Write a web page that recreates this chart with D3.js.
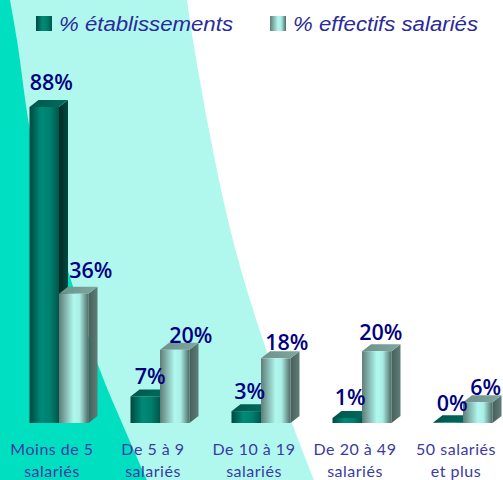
<!DOCTYPE html>
<html>
<head>
<meta charset="utf-8">
<script src="https://cdn.jsdelivr.net/npm/d3@7"></script>
<style>
  html, body { margin: 0; padding: 0; background: #fff; overflow: hidden; }
  svg { display: block; }
</style>
</head>
<body>
<script>
// data
var categories = ["Moins de 5|salariés", "De 5 à 9|salariés", "De 10 à 19|salariés", "De 20 à 49|salariés", "50 salariés|et plus"];
var seriesNames = ["% établissements", "% effectifs salariés"];
var etablissements = [88, 7.4, 3.3, 1.4, 0.2];
var effectifs = [36, 20.4, 18, 20, 5.8];

// svg container
var svgWidth = 503;
var svgHeight = 480;
var baseline = 423;
var depthX = 9;
var depthY = 7;

var svg = d3.select("body").append("svg")
    .attr("width", svgWidth)
    .attr("height", svgHeight);

// gradients for the bar faces
var defs = svg.append("defs");
function gradient(id, stops) {
  var g = defs.append("linearGradient").attr("id", id);
  stops.forEach(s => g.append("stop").attr("offset", s[0]).attr("stop-color", s[1]));
}
gradient("darkFront", [[0, "#00483f"], [0.4, "#008a78"], [0.7, "#007f6e"], [1, "#00564b"]]);
gradient("lightFront", [[0, "#5f7d78"], [0.5, "#b0f8ee"], [0.7, "#a8eee4"], [1, "#4f6a65"]]);
gradient("darkSide", [[0, "#002a25"], [1, "#004a40"]]);
gradient("lightSide", [[0, "#47605b"], [1, "#5f7d78"]]);
gradient("darkTop", [[0, "#00564b"], [1, "#006d5f"]]);
gradient("lightTop", [[0, "#6f918c"], [1, "#7fa6a0"]]);

// background swooshes
var curve = d3.line().curve(d3.curveCatmullRom);
var lightEdge = [[187, 0], [193, 40], [209, 130], [228, 220], [250, 300], [292, 423], [314, 480]];
var darkEdge = [[10, 0], [17, 40], [30, 130], [48, 210], [70, 277], [98, 365], [125, 430], [147, 480]];

svg.append("path")
    .attr("d", curve(lightEdge) + "L0,480L0,0Z")
    .attr("fill", "#b0f8ee");
svg.append("path")
    .attr("d", curve(darkEdge) + "L0,480L0,0Z")
    .attr("fill", "#00e0c0");

// scales
var xScale = d3.scaleBand()
    .domain(categories)
    .range([8.5, 513.5]);
var xSeries = d3.scaleBand()
    .domain(seriesNames)
    .range([21, 80]);
var yScale = d3.scaleLinear()
    .domain([0, 88])
    .range([baseline, 107]);

var rows = [];
categories.forEach((c, i) => {
  rows.push({cat: c, value: etablissements[i], s: seriesNames[0], kind: "dark", nudgeX: [7, 5, 3.5, 3, 4][i], nudgeY: [17, 12, 12, 13, 11][i]});
});
categories.forEach((c, i) => {
  rows.push({cat: c, value: effectifs[i], s: seriesNames[1], kind: "light", nudgeX: [17, 16, 11, 4, 8][i], nudgeY: [16, 7, 8, 11, 7][i]});
});

var bars = svg.selectAll("g.bar")
    .data(rows)
    .enter()
    .append("g")
    .attr("class", "bar");

// side face
bars.append("path")
    .attr("fill", d => `url(#${d.kind}Side)`)
    .attr("d", d => {
      var x = xScale(d.cat) + xSeries(d.s) + xSeries.bandwidth();
      var y = yScale(d.value);
      return `M${x},${baseline}L${x},${y}L${x + depthX},${y - depthY}L${x + depthX},${baseline - depthY}Z`;
    });
// top face
bars.append("path")
    .attr("fill", d => `url(#${d.kind}Top)`)
    .attr("d", d => {
      var x = xScale(d.cat) + xSeries(d.s);
      var w = xSeries.bandwidth();
      var y = yScale(d.value);
      return `M${x},${y}L${x + depthX},${y - depthY}L${x + w + depthX},${y - depthY}L${x + w},${y}Z`;
    });
// front face
bars.append("rect")
    .attr("x", d => xScale(d.cat) + xSeries(d.s))
    .attr("y", d => yScale(d.value))
    .attr("width", xSeries.bandwidth())
    .attr("height", d => baseline - yScale(d.value))
    .attr("fill", d => `url(#${d.kind}Front)`);

// value labels
svg.selectAll("text.value")
    .data(rows)
    .enter()
    .append("text")
    .attr("class", "value")
    .attr("x", d => xScale(d.cat) + xSeries(d.s) + xSeries.bandwidth() / 2 + d.nudgeX)
    .attr("y", d => yScale(d.value) - d.nudgeY)
    .attr("text-anchor", "middle")
    .attr("font-family", "'Open Sans', 'DejaVu Sans', sans-serif")
    .attr("font-weight", 600)
    .attr("font-size", 21.5)
    .attr("fill", "#000080")
    .text(d => d3.format(".0f")(d.value) + "%");

// category labels, two lines each
var labels = svg.selectAll("text.cat")
    .data(categories)
    .enter()
    .append("text")
    .attr("class", "cat")
    .attr("text-anchor", "middle")
    .attr("font-family", "Lato, 'Noto Sans', sans-serif")
    .attr("font-size", 16)
    .attr("letter-spacing", 0.5)
    .attr("fill", "#3a3aa4");
labels.append("tspan")
    .attr("y", 455)
    .attr("x", d => xScale(d) + xScale.bandwidth() / 2 - 7)
    .text(d => d.split("|")[0]);
labels.append("tspan")
    .attr("y", 477)
    .attr("x", d => xScale(d) + xScale.bandwidth() / 2 - 7)
    .text(d => d.split("|")[1]);

// legend
var legendX = d3.scaleOrdinal().domain(seriesNames).range([36, 270]);
var legendLen = d3.scaleOrdinal().domain(seriesNames).range([174, 185]);
var legend = svg.selectAll("g.legend")
    .data(seriesNames)
    .enter()
    .append("g")
    .attr("class", "legend")
    .attr("transform", d => `translate(${legendX(d)}, 16)`);
legend.append("rect")
    .attr("width", 16)
    .attr("height", 15)
    .attr("fill", (d, i) => i == 0 ? "url(#darkFront)" : "url(#lightFront)");
legend.append("text")
    .attr("x", 23)
    .attr("y", 15)
    .attr("font-family", "'Liberation Sans', Arial, sans-serif")
    .attr("font-style", "italic")
    .attr("font-size", 20)
    .attr("fill", "#2a2a9a")
    .attr("textLength", d => legendLen(d))
    .attr("lengthAdjust", "spacingAndGlyphs")
    .text(d => d);
</script>
</body>
</html>
